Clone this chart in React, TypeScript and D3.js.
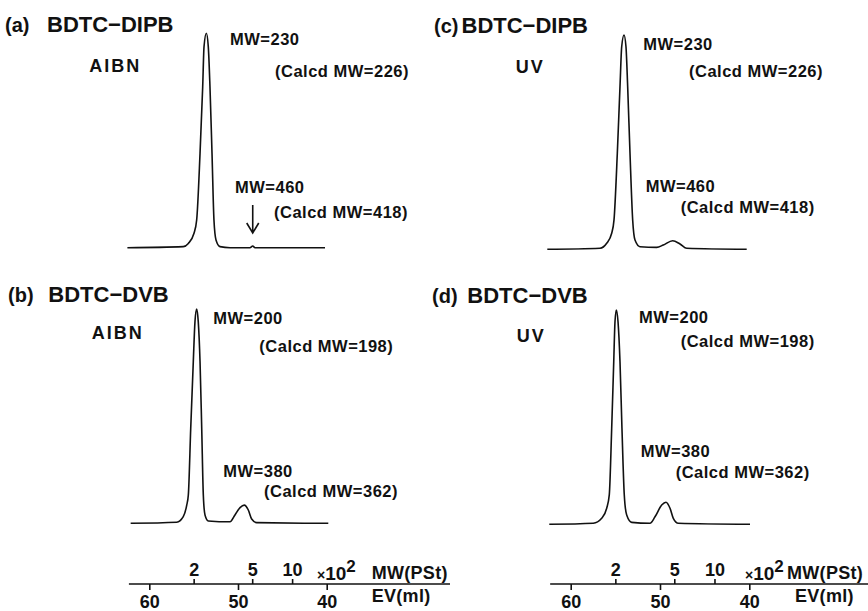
import React, { useRef, useEffect } from 'react';
import * as d3 from 'd3';

// elution volume (ml) and detector response (main peak = 100)
const evA = [62.47, 56.17, 55.6, 54.96, 54.66, 54.28, 53.98, 53.83, 53.57, 53.35, 53.16, 52.93, 52.71, 52.48, 52.03, 50.9, 48.65, 48.34, 48.08, 40.19];
const intA = [0, 0.5, 2, 6.7, 12.9, 44, 75.1, 93.8, 100, 93.8, 75.1, 44, 12.9, 3.6, 0.5, 0, 0, 0.8, 0, 0];

const evB = [62.1, 56.91, 56.17, 55.78, 55.6, 55.33, 55.04, 54.85, 54.66, 54.48, 54.28, 54.09, 53.91, 53.72, 53.35, 50.9, 50.34, 49.77, 49.29, 48.84, 48.46, 47.89, 39.82];
const intB = [0, 0.5, 3.1, 8.5, 13.2, 44.3, 75.4, 94.1, 100, 94.1, 75.4, 44.3, 13.2, 3.9, 1.1, 0.7, 3.9, 7.3, 8.5, 6.2, 2.0, 0.3, 0];

const evC = [62.62, 56.72, 55.97, 55.41, 55.15, 54.78, 54.48, 54.29, 54.03, 53.81, 53.62, 53.36, 53.06, 52.8, 52.24, 50.37, 49.63, 48.58, 47.76, 47.01, 40.29];
const intC = [0, 0.5, 2.8, 7.5, 13.7, 44.8, 75.9, 94.5, 100, 94.5, 75.9, 44.8, 13.7, 4.3, 1.2, 0.9, 2.0, 4.0, 2.5, 0.5, 0];

const evD = [62.4, 57.47, 56.53, 55.97, 55.68, 55.41, 55.18, 55.04, 54.89, 54.7, 54.48, 54.26, 54.0, 53.73, 53.17, 51.12, 50.56, 49.81, 49.33, 48.88, 48.51, 47.95, 39.92];
const intD = [0, 0.5, 2.8, 7.5, 13.7, 44.8, 75.9, 94.5, 100, 94.5, 75.9, 44.8, 13.7, 4.3, 0.9, 0.5, 3.5, 9.0, 10.3, 7.5, 2.8, 0.5, 0];

// axis ticks
const evTicks = [60, 50, 40];
const mwTickLabels = ['2', '5', '10'];
const mwTickEV = [55.0, 48.4, 43.9]; // where the PSt calibration puts them
const axisStartEV = 62.3;

const panels = [
    { id: 'a', ev: evA, int: intA, side: 'left', base: 247.7, top: 33.3 },
    { id: 'b', ev: evB, int: intB, side: 'left', base: 523.3, top: 309 },
    { id: 'c', ev: evC, int: intC, side: 'right', base: 249.3, top: 35 },
    { id: 'd', ev: evD, int: intD, side: 'right', base: 524.3, top: 310 },
];

// labels: [text, x, y, kind]
const labels = [
    ['(a)', 5, 31.7, 'tag'], ['BDTC−DIPB', 47, 31.7, 'title'], ['AIBN', 89.3, 71.7, 'cond'],
    ['MW=230', 230, 45, 'mw'], ['(Calcd MW=226)', 275, 77, 'mw'],
    ['MW=460', 235, 193, 'mw'], ['(Calcd MW=418)', 274, 218, 'mw'],

    ['(b)', 8, 301.7, 'tag'], ['BDTC−DVB', 48.3, 301.7, 'title'], ['AIBN', 91.7, 339.3, 'cond'],
    ['MW=200', 213.3, 324.3, 'mw'], ['(Calcd MW=198)', 259.3, 351.7, 'mw'],
    ['MW=380', 223.3, 476.7, 'mw'], ['(Calcd MW=362)', 264, 496.7, 'mw'],

    ['(c)', 434, 33, 'tag'], ['BDTC−DIPB', 461.5, 33, 'title'], ['UV', 515.7, 73, 'cond'],
    ['MW=230', 643.3, 50, 'mw'], ['(Calcd MW=226)', 689, 77, 'mw'],
    ['MW=460', 645.7, 191.7, 'mw'], ['(Calcd MW=418)', 680.7, 213, 'mw'],

    ['(d)', 432, 303.3, 'tag'], ['BDTC−DVB', 467.3, 303.3, 'title'], ['UV', 516.7, 341.7, 'cond'],
    ['MW=200', 639, 323.3, 'mw'], ['(Calcd MW=198)', 680.7, 346.7, 'mw'],
    ['MW=380', 640.7, 456.7, 'mw'], ['(Calcd MW=362)', 675.7, 478.3, 'mw'],
];

const FONT = 'Liberation Sans, Arial, Helvetica, sans-serif';
const styles = {
    tag: { size: 20, weight: 900, ls: 0 },
    title: { size: 22, weight: 700, ls: 0 },
    cond: { size: 18, weight: 700, ls: 2 },
    mw: { size: 16.5, weight: 700, ls: 0.5 },
};

export default function App({ width = 868, height = 611 }) {
    const svgRef = useRef(null);

    useEffect(() => {
        const svg = d3.select(svgRef.current);
        svg.selectAll('*').remove();

        const xLeft = d3.scaleLinear().domain([60, 40]).range([149.3, 326.7]);
        const xRight = d3.scaleLinear().domain([60, 40]).range([570.7, 749.3]);
        const axisY = 584;

        // chromatograms
        panels.forEach(p => {
            const x = p.side === 'left' ? xLeft : xRight;
            const y = d3.scaleLinear().domain([0, 100]).range([p.base, p.top]);
            const pts = p.ev.map((e, i) => [e, p.int[i]]);
            const line = d3.line()
                .x(d => x(d[0]))
                .y(d => y(d[1]))
                .curve(d3.curveMonotoneX);
            svg.append('path')
                .datum(pts)
                .attr('fill', 'none')
                .attr('stroke', '#111')
                .attr('stroke-width', 1.6)
                .attr('stroke-linejoin', 'round')
                .attr('d', line);
        });

        // arrow pointing at the tiny dimer peak in (a)
        const arrowX = xLeft(48.34);
        svg.append('path')
            .attr('d', `M${arrowX},205 L${arrowX},233 M${arrowX - 6},223 L${arrowX},233 L${arrowX + 6},223`)
            .attr('fill', 'none')
            .attr('stroke', '#111')
            .attr('stroke-width', 1.6);

        // bottom axes: EV below the line, MW(PSt) above it
        [xLeft, xRight].forEach((x, k) => {
            const g = svg.append('g').attr('color', '#111');
            g.append('line')
                .attr('x1', x(axisStartEV))
                .attr('x2', k === 0 ? 450 : 868)
                .attr('y1', axisY)
                .attr('y2', axisY)
                .attr('stroke', '#111')
                .attr('stroke-width', 1.6);

            g.append('g')
                .attr('transform', `translate(0,${axisY})`)
                .call(d3.axisBottom(x).tickValues(evTicks).tickSize(6).tickSizeOuter(0).tickPadding(5))
                .call(a => a.select('.domain').remove())
                .call(a => a.selectAll('.tick line').attr('stroke-width', 1.6))
                .call(a => a.selectAll('.tick text')
                    .attr('font-size', 18)
                    .attr('font-weight', 700)
                    .attr('font-family', FONT)
                    .attr('fill', '#111'));

            g.append('g')
                .attr('transform', `translate(0,${axisY})`)
                .call(d3.axisTop(x).tickValues(mwTickEV).tickSize(5).tickSizeOuter(0).tickPadding(3)
                    .tickFormat((d, i) => mwTickLabels[i]))
                .call(a => a.select('.domain').remove())
                .call(a => a.selectAll('.tick line').attr('stroke-width', 1.6))
                .call(a => a.selectAll('.tick text')
                    .attr('font-size', 18)
                    .attr('font-weight', 700)
                    .attr('font-family', FONT)
                    .attr('fill', '#111'));

            const x10 = k === 0 ? 317 : 745;
            const mwx = k === 0 ? 371.7 : 787;
            const evx = k === 0 ? 371.7 : 795;

            const t = g.append('text')
                .attr('x', x10)
                .attr('y', 580)
                .attr('font-family', FONT)
                .attr('font-weight', 700)
                .attr('fill', '#111');
            t.append('tspan').attr('font-size', 14).text('×');
            t.append('tspan').attr('font-size', 19).text('10');
            t.append('tspan').attr('font-size', 17).attr('dy', -8).text('2');

            g.append('text')
                .attr('x', mwx)
                .attr('y', 579)
                .attr('font-family', FONT)
                .attr('font-weight', 700)
                .attr('font-size', 18)
                .attr('letter-spacing', 0.3)
                .attr('fill', '#111')
                .text('MW(PSt)');

            g.append('text')
                .attr('x', evx)
                .attr('y', 602)
                .attr('font-family', FONT)
                .attr('font-weight', 700)
                .attr('font-size', 18)
                .attr('letter-spacing', 0.3)
                .attr('fill', '#111')
                .text('EV(ml)');
        });

        // panel labels and MW annotations
        svg.append('g')
            .selectAll('text')
            .data(labels)
            .join('text')
            .attr('x', d => d[1])
            .attr('y', d => d[2])
            .attr('font-family', FONT)
            .attr('font-size', d => styles[d[3]].size)
            .attr('font-weight', d => styles[d[3]].weight)
            .attr('letter-spacing', d => styles[d[3]].ls)
            .attr('fill', '#111')
            .text(d => d[0]);
    }, []);

    return (
        <svg
            ref={svgRef}
            width={width}
            height={height}
            viewBox={`0 0 ${width} ${height}`}
            style={{ position: 'absolute', left: 0, top: 0, background: '#fff', display: 'block' }}
        />
    );
}
